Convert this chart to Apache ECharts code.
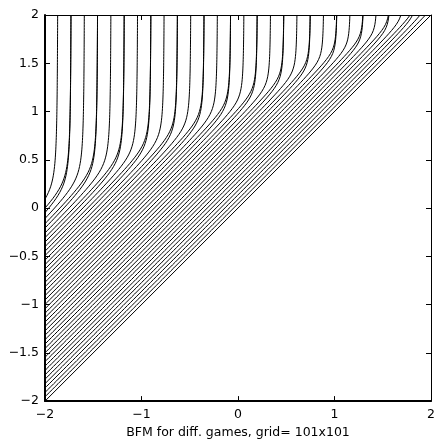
<!DOCTYPE html>
<html><head><meta charset="utf-8">
<script src="https://cdn.jsdelivr.net/npm/echarts@6/dist/echarts.min.js"></script>
<style>html,body{margin:0;padding:0;background:#fff}#c{width:438px;height:444px}</style>
</head><body><div id="c"></div><script>
// tick labels
const xTicks = [-2, -1, 0, 1, 2];
const yTicks = [-2, -1.5, -1, -0.5, 0, 0.5, 1, 1.5, 2];
const xTitle = 'BFM for diff. games, grid= 101x101';

// per-curve parameters (one entry per curve, upper-left curve first):
// x of the vertical part at the top (neighbouring curves may share one and merge),
// offset c of the diagonal part (y = x + c), width of the bend
const curveAsymptote = [
  -1.862, -1.724, -1.724, -1.586, -1.449, -1.449, -1.311, -1.173, -1.173, -1.035,
  -0.897, -0.897, -0.760, -0.622, -0.622, -0.484, -0.346, -0.346, -0.208, -0.071,
  -0.071, 0.067, 0.205, 0.205, 0.343, 0.481, 0.481, 0.618, 0.756, 0.756,
  0.894, 1.032, 1.032, 1.170, 1.307, 1.307, 1.445, 1.583, 1.583, 1.721,
  1.859, 1.859, 1.996, 2.134];
const curveOffset = [
  2.000, 1.955, 1.909, 1.864, 1.818, 1.773, 1.727, 1.682, 1.636, 1.591,
  1.545, 1.500, 1.454, 1.409, 1.363, 1.318, 1.272, 1.227, 1.181, 1.136,
  1.090, 1.045, 0.999, 0.954, 0.908, 0.863, 0.817, 0.772, 0.726, 0.681,
  0.635, 0.590, 0.544, 0.499, 0.453, 0.408, 0.362, 0.317, 0.271, 0.226,
  0.180, 0.135, 0.089, 0.044];
const curveBend = [
  0.114, 0.111, 0.111, 0.108, 0.105, 0.105, 0.102, 0.099, 0.099, 0.096,
  0.093, 0.093, 0.091, 0.088, 0.088, 0.086, 0.083, 0.083, 0.081, 0.079,
  0.079, 0.076, 0.074, 0.074, 0.072, 0.070, 0.070, 0.068, 0.066, 0.066,
  0.064, 0.062, 0.062, 0.061, 0.059, 0.059, 0.057, 0.056, 0.056, 0.054,
  0.053, 0.053, 0.051, 0.050];
// the straight diagonal y = x
const diagonalLine = [[-2, -2], [2, 2]];

// smooth join of the diagonal x = y - c and the vertical x = a
function curvePoints(a, c, e) {
  const pts = [];
  for (let i = 0; i <= 800; i++) {
    const y = -2 + i * 0.005;
    const u = y - c;
    const x = (a + u - Math.sqrt((a - u) * (a - u) + 4 * e * e)) / 2;
    pts.push([x, y]);
  }
  return pts;
}

const FONT = 'DejaVu Sans';
const FS = 12.5;
const minus = v => String(v).replace('-', '\u2212');

const series = curveAsymptote.map((a, k) => ({
  type: 'line', showSymbol: false, silent: true, clip: true, animation: false,
  data: curvePoints(a, curveOffset[k], curveBend[k]),
  lineStyle: { color: '#000', width: 1 }
}));
series.push({
  type: 'line', showSymbol: false, silent: true, clip: true, animation: false,
  data: diagonalLine, lineStyle: { color: '#000', width: 1 }
});

const chart = echarts.init(document.getElementById('c'), null, { renderer: 'canvas' });
chart.setOption({
  animation: false,
  backgroundColor: '#fff',
  grid: { left: 45, right: 6, top: 15, bottom: 42 },
  xAxis: [{
    type: 'value', min: -2, max: 2, interval: 1, position: 'bottom',
    axisLine: { onZero: false, lineStyle: { color: '#000', width: 2 } },
    axisTick: { inside: true, length: 5, customValues: xTicks, lineStyle: { color: '#000' } },
    axisLabel: { color: '#000', fontFamily: FONT, fontSize: FS, margin: 7, customValues: xTicks, formatter: minus },
    splitLine: { show: false },
    name: xTitle, nameLocation: 'middle', nameGap: 24,
    nameTextStyle: { color: '#000', fontFamily: FONT, fontSize: FS }
  }, {
    type: 'value', min: -2, max: 2, interval: 1, position: 'top',
    axisLine: { onZero: false, lineStyle: { color: '#000', width: 1 } },
    axisTick: { inside: true, length: 5, customValues: xTicks, lineStyle: { color: '#000' } },
    axisLabel: { show: false }, splitLine: { show: false }
  }],
  yAxis: [{
    type: 'value', min: -2, max: 2, interval: 0.5, position: 'left',
    axisLine: { onZero: false, lineStyle: { color: '#000', width: 2 } },
    axisTick: { inside: true, length: 5, customValues: yTicks, lineStyle: { color: '#000' } },
    axisLabel: { color: '#000', fontFamily: FONT, fontSize: FS, margin: 6, customValues: yTicks, formatter: minus },
    splitLine: { show: false }
  }, {
    type: 'value', min: -2, max: 2, interval: 0.5, position: 'right',
    axisLine: { onZero: false, lineStyle: { color: '#000', width: 1 } },
    axisTick: { inside: true, length: 5, customValues: yTicks, lineStyle: { color: '#000' } },
    axisLabel: { show: false }, splitLine: { show: false }
  }],
  series: series
});
</script></body></html>
